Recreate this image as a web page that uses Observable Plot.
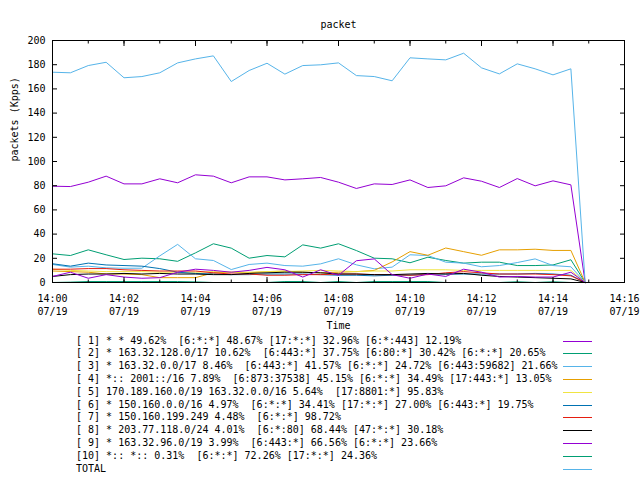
<!DOCTYPE html>
<html>
<head>
<meta charset="utf-8">
<script src="https://cdn.jsdelivr.net/npm/d3@7"></script>
<script src="https://cdn.jsdelivr.net/npm/@observablehq/plot@0.6"></script>
<style>
  body { margin: 0; background: #fff; }
  #chart { position: relative; width: 640px; height: 480px; background: #fff; font-family: "DejaVu Sans Mono", monospace; font-size: 10px; color: #000; }
  #legend { position: absolute; left: 76px; top: 334.6px; }
  .row { position: relative; height: 12.8px; line-height: 12.8px; white-space: pre; }
  .sample { position: absolute; left: 487px; top: 6px; width: 29px; height: 1px; }
</style>
</head>
<body>
<div id="chart"></div>
<script>
// ---- data ----
const times = ["14:00:00","14:00:30","14:01:00","14:01:30","14:02:00","14:02:30","14:03:00","14:03:30",
  "14:04:00","14:04:30","14:05:00","14:05:30","14:06:00","14:06:30","14:07:00","14:07:30",
  "14:08:00","14:08:30","14:09:00","14:09:30","14:10:00","14:10:30","14:11:00","14:11:30",
  "14:12:00","14:12:30","14:13:00","14:13:30","14:14:00","14:14:30","14:14:54"];
const day = "2013-07-19";

const seriesNames = [
  "[ 1] * * 49.62%  [6:*:*] 48.67% [17:*:*] 32.96% [6:*:443] 12.19%",
  "[ 2] * 163.32.128.0/17 10.62%  [6:443:*] 37.75% [6:80:*] 30.42% [6:*:*] 20.65%",
  "[ 3] * 163.32.0.0/17 8.46%  [6:443:*] 41.57% [6:*:*] 24.72% [6:443:59682] 21.66%",
  "[ 4] *:: 2001::/16 7.89%  [6:873:37538] 45.15% [6:*:*] 34.49% [17:443:*] 13.05%",
  "[ 5] 170.189.160.0/19 163.32.0.0/16 5.64%  [17:8801:*] 95.83%",
  "[ 6] * 150.160.0.0/16 4.97%  [6:*:*] 34.41% [17:*:*] 27.00% [6:443:*] 19.75%",
  "[ 7] * 150.160.199.249 4.48%  [6:*:*] 98.72%",
  "[ 8] * 203.77.118.0/24 4.01%  [6:*:80] 68.44% [47:*:*] 30.18%",
  "[ 9] * 163.32.96.0/19 3.99%  [6:443:*] 66.56% [6:*:*] 23.66%",
  "[10] *:: *:: 0.31%  [6:*:*] 72.26% [17:*:*] 24.36%",
  "TOTAL"
];
const seriesColors = ["#9400d3","#009e73","#56b4e9","#e69f00","#f0e442","#0072b2","#e51e10","#000000","#9400d3","#009e73","#56b4e9"];

const s1  = [79.6,79.3,82.9,87.9,81.5,81.5,85.7,82.4,89,87.9,82.4,87.3,87.3,84.8,85.7,86.8,82.9,77.7,81.5,81,84.8,78.5,79.9,86.5,83.7,78.5,85.9,79.9,84,80.7,0];
const s2  = [23.7,22.3,27.0,22.9,19.0,20.1,19.6,17.5,24.5,32,28.4,20.1,22.3,21.2,31.1,28.4,32.0,26.4,20.1,19.6,16.3,20.9,18.2,16.0,16.8,16.8,14.0,14.0,14.5,18.8,0];
const s3  = [14.9,12.7,13.5,12.1,11.8,11.8,22,31.5,19.6,18.2,10.7,14.9,16.0,14.0,13.5,15.4,19.6,14.6,11.3,12.7,22.9,22.3,16.8,16.0,13,14,16.5,19.5,14,13,0];
const s4  = [9.5,9,8.5,7,7,6.5,4,4,4,8,8.5,8,9,9.5,8.5,8,8.5,9,10,17,25.5,22.5,28.5,25.5,22.5,27,27,27.5,26.5,26.5,0];
const s5  = [11,10,9.5,9,9,9,8.5,8.5,8.5,9,8.5,8.5,9,9,9.5,10,9.5,9,9.5,9.5,10.5,10.5,10.5,10,10,10,10,10,10,10,0];
const s6  = [15.5,13.5,16,14.5,14,13.5,11.5,8.5,7.5,7,6.5,6.5,7,7,7,6.5,6,6,5.5,6,6,7,7,7,7,7,7,7.5,7,6,0];
const s7  = [11,11,11.5,11.5,10.5,10,9.5,9.5,9.5,8,7,7,6,6,6.5,6.5,7,7,6.5,6.5,6,6.5,8,9,8,7,7,7,6.5,5.5,0];
const s8  = [5,6.5,7,7,7.5,7,7.5,7,7,6.5,6.5,7.5,8,8.5,8.5,8,7,7,6.5,6.5,7,7.5,7,7.5,6,5,4.5,4,3.5,3,0];
const s9  = [5,8.5,3.5,6.5,4.5,3.5,4,8.5,11,10,8.5,10,12.5,10.5,4.5,10.5,6,18,19.5,6.5,3.5,7,5,11,8.5,4.5,5,4.5,4.5,8.5,0];
const s10 = [0,0.3,0.8,0.8,0.8,0.8,0.8,0.8,0.5,0,0,0,0,0.8,0.8,0,0.8,0,0.8,0.8,0.8,0.8,0,0,0,0,0.6,0,0.6,0,0];
const total = [173.8,173.3,179.3,182,169.2,170.2,173.3,181.5,184.8,187.3,166.1,175.2,181.2,172.2,179.3,179.9,181.5,171,170.2,166.7,185.7,184.8,184,189.5,177.4,172.4,180.7,176.6,171.6,176.6,0];

const allSeries = [s1,s2,s3,s4,s5,s6,s7,s8,s9,s10,total];
const xStart = "14:00", xEnd = "14:16";
const yTicks = [0,20,40,60,80,100,120,140,160,180,200];

// ---- build ----
const parse = t => new Date(`${day}T${t.length === 5 ? t + ":00" : t}Z`);
const dates = times.map(parse);
const x0 = parse(xStart), x1 = parse(xEnd);
const majorTicks = d3.utcMinute.every(2).range(x0, new Date(+x1 + 1));
const minorTicks = d3.utcMinute.every(1).range(x0, new Date(+x1 + 1));

const lineMarks = allSeries.map((vals, k) =>
  Plot.line(vals.map((v, i) => ({t: dates[i], v})), {x: "t", y: "v", stroke: seriesColors[k], strokeWidth: 1})
);

const chart = Plot.plot({
  width: 640,
  height: 335,
  marginLeft: 52,
  marginRight: 16,
  marginTop: 40,
  marginBottom: 53,
  style: {fontFamily: "DejaVu Sans Mono, monospace", fontSize: "10px", background: "#fff", color: "#000", overflow: "visible"},
  x: {type: "utc", domain: [x0, x1]},
  y: {domain: [0, 200]},
  marks: [
    ...lineMarks,
    Plot.frame({stroke: "#000", strokeWidth: 1}),
    Plot.axisX(majorTicks, {anchor: "bottom", tickSize: -5, fill: "none", label: null}),
    Plot.axisX(majorTicks, {anchor: "top", tickSize: -5, fill: "none", label: null}),
    Plot.axisX(minorTicks, {anchor: "bottom", tickSize: -2.5, fill: "none", label: null}),
    Plot.axisX(minorTicks, {anchor: "top", tickSize: -2.5, fill: "none", label: null}),
    Plot.axisX(majorTicks, {anchor: "bottom", tickSize: 0, tickPadding: 11, lineHeight: 1.25,
      tickFormat: d3.utcFormat("%H:%M\n%m/%d"), label: null}),
    Plot.axisY(yTicks, {anchor: "left", tickSize: -5, fill: "none", label: null}),
    Plot.axisY(yTicks, {anchor: "right", tickSize: -5, fill: "none", label: null}),
    Plot.axisY(yTicks, {anchor: "left", tickSize: 0, tickPadding: 7, label: null}),
    Plot.text(["packet"], {text: d => d, frameAnchor: "top", dy: -20}),
    Plot.text(["Time"], {text: d => d, frameAnchor: "bottom", dy: 46}),
    Plot.text(["packets (Kpps)"], {text: d => d, frameAnchor: "left", dx: -38, rotate: -90})
  ]
});

const root = document.getElementById("chart");
root.appendChild(chart);

const legend = document.createElement("div");
legend.id = "legend";
seriesNames.forEach((name, k) => {
  const row = document.createElement("div");
  row.className = "row";
  row.textContent = name;
  const sample = document.createElement("div");
  sample.className = "sample";
  sample.style.background = seriesColors[k];
  row.appendChild(sample);
  legend.appendChild(row);
});
root.appendChild(legend);
</script>
</body>
</html>
